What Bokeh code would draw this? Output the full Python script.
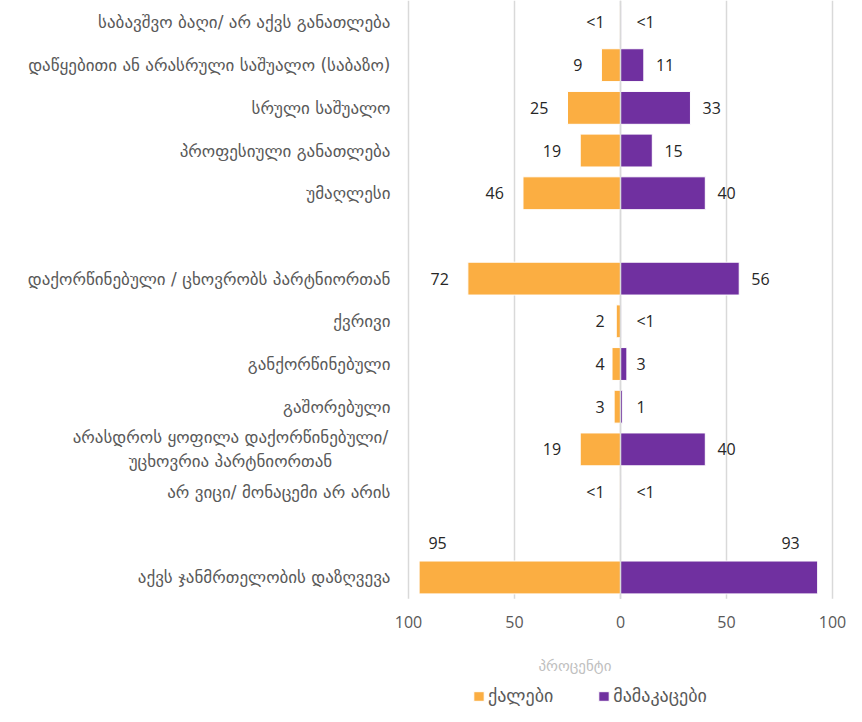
from bokeh.plotting import figure
from bokeh.models import Range1d, ColumnDataSource, Legend, LegendItem
from bokeh.core.properties import value
from bokeh.embed import file_html
from bokeh.resources import INLINE

# ---------------- data ----------------
edu_labels = ["საბავშვო ბაღი/ არ აქვს განათლება",
              "დაწყებითი ან არასრული საშუალო (საბაზო)",
              "სრული საშუალო",
              "პროფესიული განათლება",
              "უმაღლესი"]
edu_women = [0.3, 9, 25, 19, 46]
edu_men = [0.3, 11, 33, 15, 40]
edu_women_text = ["<1", "9", "25", "19", "46"]
edu_men_text = ["<1", "11", "33", "15", "40"]

mar_labels = ["დაქორწინებული / ცხოვრობს პარტნიორთან",
              "ქვრივი",
              "განქორწინებული",
              "გაშორებული",
              "არასდროს ყოფილა დაქორწინებული/\nუცხოვრია პარტნიორთან",
              "არ ვიცი/ მონაცემი არ არის"]
mar_women = [72, 2, 4, 3, 19, 0.3]
mar_men = [56, 0.3, 3, 1, 40, 0.3]
mar_women_text = ["72", "2", "4", "3", "19", "<1"]
mar_men_text = ["56", "<1", "3", "1", "40", "<1"]

ins_labels = ["აქვს ჯანმრთელობის დაზღვევა"]
ins_women = [95]
ins_men = [93]
ins_women_text = ["95"]
ins_men_text = ["93"]

series_names = ["ქალები", "მამაკაცები"]
x_ticks = [-100, -50, 0, 50, 100]
x_tick_labels = ["100", "50", "0", "50", "100"]
axis_title = "პროცენტი"

WOMEN_COLOR = "#FBAE42"
MEN_COLOR = "#7030A0"
GRID_COLOR = "#D9D9D9"
LABEL_FONT = "DejaVu Sans"
NUM_FONT = "Open Sans"

# ---------------- rows (with a blank row between groups) ----------------
groups = [
    (edu_labels, edu_women, edu_men, edu_women_text, edu_men_text),
    (mar_labels, mar_women, mar_men, mar_women_text, mar_men_text),
    (ins_labels, ins_women, ins_men, ins_women_text, ins_men_text),
]
rows, labels, women, men, wtext, mtext = [], [], [], [], [], []
r = 0
for gl, gw, gm, gwt, gmt in groups:
    for i in range(len(gl)):
        rows.append(r)
        labels.append(gl[i]); women.append(gw[i]); men.append(gm[i])
        wtext.append(gwt[i]); mtext.append(gmt[i])
        r += 1
    r += 1
last_row = rows[-1]

# scale: 2.12 px per percent, 42.69 px per row
Y_TOP = -0.515
Y_BOTTOM = Y_TOP + 706 / 42.69
X_START = -100 - 408 / 2.12
X_END = 100 + 14 / 2.12

p = figure(width=846, height=706, frame_width=846, frame_height=706,
           x_range=Range1d(X_START, X_END), y_range=Range1d(Y_BOTTOM, Y_TOP),
           output_backend="svg", toolbar_location=None,
           min_border=0)
p.outline_line_color = None
p.background_fill_color = "white"
p.border_fill_color = "white"
p.xaxis.visible = False
p.yaxis.visible = False
p.xgrid.visible = False
p.ygrid.visible = False

# grid lines at the x ticks, spanning the rows area
grid_bottom = last_row + 0.5
p.segment(x0=x_ticks, x1=x_ticks, y0=[Y_TOP] * len(x_ticks), y1=[grid_bottom] * len(x_ticks),
          line_color=GRID_COLOR, line_width=1.5)

bars = ColumnDataSource(dict(y=rows, wl=[-v for v in women], wr=[0] * len(rows),
                             ml=[0] * len(rows), mr=men))
rw = p.hbar(y="y", left="wl", right="wr", height=0.77, source=bars,
            fill_color=WOMEN_COLOR, line_color="white", line_width=1)
rm = p.hbar(y="y", left="ml", right="mr", height=0.77, source=bars,
            fill_color=MEN_COLOR, line_color="white", line_width=1)

# zero (category axis) line on top of the bars
p.segment(x0=[0], x1=[0], y0=[Y_TOP], y1=[grid_bottom], line_color=GRID_COLOR, line_width=1.5)

# ---------------- data labels ----------------
def left_pos(v):
    return -(v + 9) if v >= 5 else -7.5

def right_pos(v):
    return v + 5.7 if v >= 5 else 7.5

normal = [i for i, y in enumerate(rows) if y != last_row]
wl_src = ColumnDataSource(dict(x=[left_pos(women[i]) for i in normal],
                               y=[rows[i] for i in normal],
                               t=[wtext[i] for i in normal]))
ml_src = ColumnDataSource(dict(x=[right_pos(men[i]) for i in normal],
                               y=[rows[i] for i in normal],
                               t=[mtext[i] for i in normal]))
top = [i for i, y in enumerate(rows) if y == last_row]
top_src = ColumnDataSource(dict(x=[-(women[i] - 8.7) for i in top] + [men[i] - 12.8 for i in top],
                                y=[rows[i] - 0.8 for i in top] * 2,
                                t=[wtext[i] for i in top] + [mtext[i] for i in top]))

txt = dict(text_font=value(NUM_FONT), text_font_size="16px",
           text_color="#262626", text_baseline="middle")
p.text(x="x", y="y", text="t", source=wl_src, text_align="right", **txt)
p.text(x="x", y="y", text="t", source=ml_src, text_align="left", **txt)
p.text(x="x", y="y", text="t", source=top_src, text_align="center", **txt)

# ---------------- category labels ----------------
label_x = x_ticks[0] - 8.5
single = [i for i, t in enumerate(labels) if "\n" not in t]
multi = [i for i, t in enumerate(labels) if "\n" in t]
p.text(x=[label_x] * len(single), y=[rows[i] for i in single], text=[labels[i] for i in single],
       text_align="right", text_baseline="middle", text_font=value(LABEL_FONT),
       text_font_size="17px", text_color="#595959")
p.text(x=[label_x - 75.5] * len(multi), y=[rows[i] for i in multi], text=[labels[i] for i in multi],
       text_align="center", text_baseline="middle", text_font=value(LABEL_FONT),
       text_font_size="17px", text_color="#595959", text_line_height=1.2)

# ---------------- x tick labels and axis title ----------------
tick_y = last_row + 1.05
p.text(x=x_ticks, y=[tick_y] * len(x_ticks), text=x_tick_labels,
       text_align="center", text_baseline="middle", text_font=value(NUM_FONT),
       text_font_size="16px", text_color="#595959")
p.text(x=[-21.5], y=[last_row + 2.08], text=[axis_title],
       text_align="center", text_baseline="middle", text_font=value(LABEL_FONT),
       text_font_size="15px", text_color="#C0C0C0")

# ---------------- legend ----------------
legend = Legend(items=[LegendItem(label=series_names[0], renderers=[rw]),
                       LegendItem(label=series_names[1], renderers=[rm])],
                orientation="horizontal", location=(472, 0),
                glyph_width=13, glyph_height=12, label_standoff=3, spacing=44,
                padding=0, margin=0, border_line_alpha=0, background_fill_alpha=0,
                label_text_font=LABEL_FONT, label_text_font_size="18px",
                label_text_color="#595959", label_height=16)
p.add_layout(legend)

open("out.html", "w").write(file_html(p, INLINE))
